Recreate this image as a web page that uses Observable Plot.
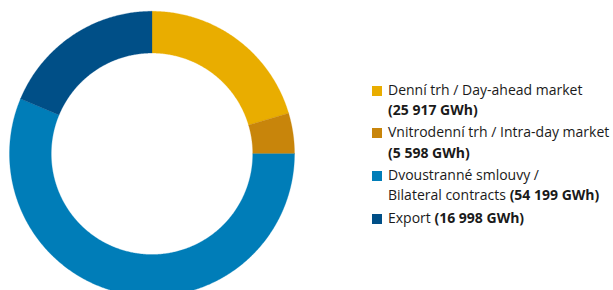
<!DOCTYPE html>
<html>
<head>
<meta charset="utf-8">
<script src="https://cdn.jsdelivr.net/npm/d3@7"></script>
<script src="https://cdn.jsdelivr.net/npm/@observablehq/plot@0.6"></script>
<style>
  html, body { margin: 0; padding: 0; background: #fff; }
  #wrap { position: relative; width: 613px; height: 290px; overflow: hidden; font-family: "Open Sans", sans-serif; color: #1a1a1a; }
  #chart { position: absolute; left: 0; top: 0; }
  #legend { position: absolute; left: 372px; top: 79.5px; font-size: 14px; line-height: 20.5px; }
  .item { position: relative; padding-left: 16px; margin-bottom: 1.7px; white-space: nowrap; }
  .sw { position: absolute; left: 0; top: 6px; width: 10px; height: 10px; }
  b { font-weight: 700; }
</style>
</head>
<body>
<div id="wrap"><div id="chart"></div><div id="legend"></div></div>
<script>
// Categories (legend labels) and values
const categories = ["Denní trh / Day-ahead market", "Vnitrodenní trh / Intra-day market", "Dvoustranné smlouvy / Bilateral contracts", "Export"];
const labelLines = [
  ["Denní trh / Day-ahead market", ""],
  ["Vnitrodenní trh / Intra-day market", ""],
  ["Dvoustranné smlouvy /", "Bilateral contracts "],
  ["Export ", null]
];
const valueLabels = ["(25 917 GWh)", "(5 598 GWh)", "(54 199 GWh)", "(16 998 GWh)"];
// Shares as drawn in the ring (%)
const shares = [20.4, 4.6, 56.3, 18.7];
const colors = ["#e9ad00", "#c8850b", "#007db8", "#004f87"];

const innerRatio = 0.707;
const total = d3.sum(shares);
const pts = [];
let acc = 0;
shares.forEach((v, i) => {
  const a0 = acc / total * 2 * Math.PI;
  acc += v;
  const a1 = acc / total * 2 * Math.PI;
  const n = Math.max(4, Math.ceil((a1 - a0) / (Math.PI / 360)));
  const seg = [];
  for (let k = 0; k <= n; k++) {
    const a = a0 + (a1 - a0) * k / n;
    seg.push({cat: categories[i], x: Math.sin(a), y: Math.cos(a)});
  }
  for (let k = n; k >= 0; k--) {
    const a = a0 + (a1 - a0) * k / n;
    seg.push({cat: categories[i], x: innerRatio * Math.sin(a), y: innerRatio * Math.cos(a)});
  }
  seg.push({...seg[0]});
  pts.push(...seg);
});

const chart = Plot.plot({
  width: 613,
  height: 290,
  margin: 0,
  x: {domain: [-1, 1], range: [9, 294], axis: null},
  y: {domain: [-1, 1], range: [295.8, 10.8], axis: null},
  color: {domain: categories, range: colors, legend: false},
  marks: [
    Plot.line(pts, {x: "x", y: "y", z: "cat", fill: "cat", stroke: "cat", strokeWidth: 0.3, curve: "linear"})
  ]
});
document.getElementById("chart").appendChild(chart);

const legend = document.getElementById("legend");
categories.forEach((c, i) => {
  const div = document.createElement("div");
  div.className = "item";
  const sw = document.createElement("span");
  sw.className = "sw";
  sw.style.background = colors[i];
  div.appendChild(sw);
  const [l1, l2] = labelLines[i];
  div.appendChild(document.createTextNode(l1));
  if (l2 === null) {
    const b = document.createElement("b"); b.textContent = valueLabels[i]; div.appendChild(b);
  } else {
    div.appendChild(document.createElement("br"));
    div.appendChild(document.createTextNode(l2));
    const b = document.createElement("b"); b.textContent = valueLabels[i]; div.appendChild(b);
  }
  legend.appendChild(div);
});
</script>
</body>
</html>
